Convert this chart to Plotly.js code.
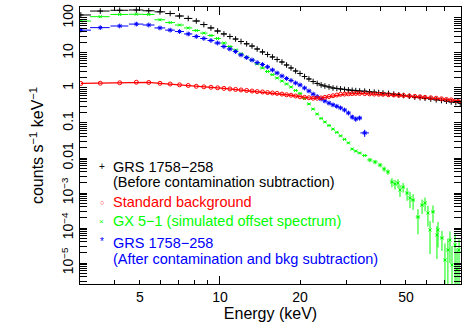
<!DOCTYPE html>
<html>
<head>
<meta charset="utf-8">
<script src="https://cdn.plot.ly/plotly-3.0.1.min.js"></script>
<style>
  html, body { margin: 0; padding: 0; background: #fff; }
  #chart { width: 463px; height: 327px; }
</style>
</head>
<body>
<div id="chart"></div>
<script>
// Energy grid (keV), bin centres
const pcaE = [3.0, 3.55, 4.2, 4.85, 5.4, 5.95, 6.5, 7.05, 7.6, 8.15, 8.7, 9.25, 9.8, 10.35, 10.9,
  11.45, 12.0, 12.6, 13.2, 13.8, 14.45, 15.1, 15.75, 16.4, 17.1, 17.8, 18.5, 19.25, 20.0, 20.8,
  21.6, 22.4, 23.2, 24.0, 24.8, 25.7, 26.6, 27.5, 28.4, 29.4, 30.4, 31.4, 32.4, 33.5, 35.0];
const hiE = [36.5, 38.0, 39.5, 41.0, 43.0, 45.0, 47.0, 49.0, 51.5, 54.0, 56.5, 59.0, 62.0, 65.0,
  68.0, 71.0, 74.0, 77.0, 80.0];

// GRS 1758-258 before contamination subtraction
const grsRaw = [122, 158, 166, 169, 161, 150, 134, 114, 97, 82, 65, 52, 42.5, 35, 29.6,
  25.1, 21.3, 18.3, 15.8, 13.0, 10.7, 9.06, 7.69, 6.52, 5.53, 4.54, 3.73, 3.06, 2.60, 2.13,
  1.81, 1.53, 1.35, 1.22, 1.14, 1.07, 1.0, 0.97, 0.94, 0.91, 0.88, 0.86, 0.84, 0.82, 0.81,
  0.78, 0.76, 0.74, 0.72, 0.70, 0.67, 0.64, 0.61, 0.58, 0.55, 0.53, 0.51, 0.485, 0.46,
  0.44, 0.42, 0.40, 0.385, 0.37];

// Standard background
const bkg = [1.35, 1.37, 1.41, 1.46, 1.44, 1.36, 1.30, 1.23, 1.18, 1.12, 1.08, 1.05, 1.01, 0.975, 0.94,
  0.91, 0.88, 0.85, 0.82, 0.79, 0.77, 0.74, 0.72, 0.70, 0.67, 0.64, 0.62, 0.59, 0.56, 0.54,
  0.525, 0.51, 0.51, 0.52, 0.54, 0.57, 0.60, 0.63, 0.66, 0.67, 0.68, 0.69, 0.70, 0.70, 0.69,
  0.68, 0.67, 0.665, 0.66, 0.64, 0.63, 0.62, 0.61, 0.59, 0.575, 0.56, 0.54, 0.525, 0.51,
  0.49, 0.47, 0.457, 0.44, 0.434];

// GX 5-1 simulated offset spectrum
const gxLow = [82, 109, 126, 128, 126, 89, 74, 63, 52, 44, 37, 31.6, 26, 19.3, 15.3,
  12.2, 9.4, 7.6, 6.2, 4.9, 3.73, 2.96, 2.40, 1.93, 1.58, 1.30, 1.07, 0.85, 0.70, 0.50,
  0.35, 0.25, 0.18, 0.135, 0.107, 0.085, 0.067, 0.054, 0.043, 0.034, 0.027, 0.018, 0.0158, 0.0139, 0.0118];
const gxHiE = [36.6, 38.3, 40.0, 41.4, 42.8, 44.3, 45.5, 46.7, 47.5, 48.8, 50.5, 51.8, 53.2, 55.5,
  57.5, 59.0, 60.5, 61.6, 63.2, 65.4, 66.0, 68.3, 70.1, 71.9, 73.2, 74.5, 76.5, 77.8, 79.2];
const gxHi = [8.8e-3, 7.7e-3, 6.3e-3, 4.85e-3, 4.0e-3, 2.06e-3, 1.81e-3, 1.93e-3, 1.22e-3, 1.48e-3,
  1.0e-3, 7.2e-4, 6.3e-4, 2.06e-4, 4.5e-4, 5.2e-4, 2.7e-4, 8.8e-5, 2.9e-4, 6.3e-5, 8.8e-5, 5.2e-5,
  1.22e-5, 2.35e-5, 4.5e-5, 8.8e-6, 3.3e-5, 6.3e-6, 2.35e-5];
const gxHiErr = [1.2e-3, 1.1e-3, 0.9e-3, 0.8e-3, 0.7e-3, 0.6e-3, 0.55e-3, 0.55e-3, 0.45e-3, 0.45e-3,
  0.4e-3, 0.35e-3, 0.3e-3, 1.4e-4, 2.0e-4, 2.2e-4, 1.6e-4, 7e-5, 1.5e-4, 5e-5, 6e-5, 3e-5,
  2.4e-5, 2.6e-5, 3.5e-5, 2.2e-5, 3.4e-5, 2.0e-5, 2.4e-5];

// GRS 1758-258 after contamination and background subtraction
const grsNet = [45, 53, 59, 67, 63, 52, 45, 41, 35, 29.6, 26, 22.8, 19.3, 15.3, 13.0,
  11.0, 8.8, 7.4, 6.3, 5.3, 4.7, 4.0, 3.27, 2.68, 2.2, 1.87, 1.64, 1.39, 1.22, 1.0,
  0.82, 0.67, 0.57, 0.485, 0.425, 0.37, 0.33, 0.30, 0.27, 0.235, 0.193, 0.148, 0.13, 0.139, 0.052];
const grsNetErr = [0.5, 0.5, 0.6, 0.6, 0.6, 0.5, 0.5, 0.4, 0.4, 0.3, 0.3, 0.3, 0.2, 0.2, 0.2,
  0.15, 0.12, 0.1, 0.1, 0.08, 0.08, 0.07, 0.06, 0.05, 0.05, 0.04, 0.04, 0.04, 0.04, 0.03,
  0.03, 0.03, 0.03, 0.03, 0.03, 0.03, 0.03, 0.03, 0.03, 0.03, 0.025, 0.02, 0.02, 0.02, 0.012];
const grsNetLastHalf = 1.3;

const allE = pcaE.concat(hiE);
const gxE = pcaE.concat(gxHiE);
const gxY = gxLow.concat(gxHi);
const gxErr = gxLow.map(v => v * 0.03).concat(gxHiErr);

// half bin widths from neighbouring bin centres
const halfWidths = (e) => e.map((v, i) => {
  const lo = i > 0 ? e[i - 1] : v - (e[i + 1] - v);
  const hi = i < e.length - 1 ? e[i + 1] : v + (v - e[i - 1]);
  return (hi - lo) / 4;
});

const netHalf = halfWidths(pcaE);
netHalf[netHalf.length - 1] = grsNetLastHalf;

const BLACK = '#000000', RED = '#ff0000', GREEN = '#00ff00', BLUE = '#0000ff';

const traces = [
  {
    x: gxE, y: gxY, type: 'scatter', mode: 'markers', name: 'GX 5-1',
    marker: { symbol: 'x-thin-open', size: 3, color: GREEN, line: { color: GREEN, width: 1 } },
    error_x: { type: 'data', array: halfWidths(gxE), width: 0, thickness: 1, color: GREEN },
    error_y: { type: 'data', array: gxErr, width: 0, thickness: 1, color: GREEN }
  },
  {
    x: pcaE, y: grsNet, type: 'scatter', mode: 'markers', name: 'GRS after',
    marker: { symbol: 'asterisk-open', size: 4, color: BLUE, line: { color: BLUE, width: 1 } },
    error_x: { type: 'data', array: netHalf, width: 0, thickness: 1, color: BLUE },
    error_y: { type: 'data', array: grsNetErr, width: 0, thickness: 1, color: BLUE }
  },
  {
    x: allE, y: grsRaw, type: 'scatter', mode: 'markers', name: 'GRS before',
    marker: { symbol: 'cross-thin-open', size: 4, color: BLACK, line: { color: BLACK, width: 1 } },
    error_x: { type: 'data', array: halfWidths(allE), width: 0, thickness: 1, color: BLACK }
  },
  {
    x: allE, y: bkg, type: 'scatter', mode: 'lines+markers', name: 'Standard background',
    line: { color: RED, width: 1.3 },
    marker: { symbol: 'circle-open', size: 4, color: RED, line: { color: RED, width: 1 } }
  },
  { x: [], y: [], xaxis: 'x2', type: 'scatter', showlegend: false }
];

const FONT = 'Liberation Sans, Arial, Helvetica, sans-serif';

// legend drawn as text rows: symbol, symbol size, colour, lines with paper y
const legendRows = [
  { sym: '+', size: 10, color: BLACK, y: 0.4224, lines: [['GRS 1758\u2212258', 0.4224], ['(Before contamination subtraction)', 0.3682]] },
  { sym: '\u25cb', size: 7, color: RED, y: 0.2960, lines: [['Standard background', 0.2960]] },
  { sym: '\u00d7', size: 8, color: GREEN, y: 0.2274, lines: [['GX 5\u22121 (simulated offset spectrum)', 0.2274]] },
  { sym: '*', size: 10, color: BLUE, y: 0.1530, lines: [['GRS 1758\u2212258', 0.1480], ['(After contamination and bkg subtraction)', 0.0903]] }
];

const annotations = [];
legendRows.forEach(row => {
  annotations.push({
    xref: 'paper', yref: 'paper', x: 0.0576, y: row.y, xanchor: 'center', yanchor: 'middle',
    text: row.sym, showarrow: false, font: { family: FONT, size: row.size, color: row.color }
  });
  row.lines.forEach(([txt, yy]) => {
    annotations.push({
      xref: 'paper', yref: 'paper', x: 0.0812, y: yy, xanchor: 'left', yanchor: 'middle',
      text: txt, showarrow: false, font: { family: FONT, size: 14.5, color: row.color }
    });
  });
});

const layout = {
  width: 463,
  height: 327,
  margin: { l: 80, r: 2, t: 7, b: 43 },
  paper_bgcolor: '#fff',
  plot_bgcolor: '#fff',
  showlegend: false,
  font: { family: FONT, color: BLACK, size: 14 },
  xaxis: {
    type: 'log',
    range: [0.474, 1.906],
    tickmode: 'array',
    tickvals: [5, 10, 20, 50],
    ticktext: ['5', '10', '20', '50'],
    ticks: 'inside', ticklen: 4, tickwidth: 1, tickcolor: BLACK,
    minor: { ticks: 'inside', ticklen: 4, tickwidth: 1, tickcolor: BLACK, dtick: 'D1', showgrid: false },
    showline: true, linecolor: BLACK, linewidth: 1, mirror: 'allticks',
    showgrid: false, zeroline: false,
    tickfont: { size: 14 },
    title: { text: 'Energy (keV)', font: { size: 16 }, standoff: 0 }
  },
  xaxis2: {
    type: 'log',
    overlaying: 'x',
    range: [0.474, 1.906],
    tickmode: 'array',
    tickvals: [10],
    ticks: 'inside', ticklen: 8, tickwidth: 1, tickcolor: BLACK,
    showticklabels: false, showline: false, showgrid: false, zeroline: false,
    mirror: 'allticks'
  },
  yaxis: {
    type: 'log',
    range: [-5.6, 2.314],
    tickmode: 'array',
    tickvals: [1e-5, 1e-4, 1e-3, 0.01, 0.1, 1, 10, 100],
    ticktext: ['10<sup>\u22125</sup>', '10<sup>\u22124</sup>', '10<sup>\u22123</sup>', '0.01', '0.1', '1', '10', '100'],
    tickangle: -90,
    ticks: 'inside', ticklen: 7, tickwidth: 1, tickcolor: BLACK,
    minor: { ticks: 'inside', ticklen: 4, tickwidth: 1, tickcolor: BLACK, dtick: 'D1', showgrid: false },
    showline: true, linecolor: BLACK, linewidth: 1, mirror: 'allticks',
    showgrid: false, zeroline: false,
    tickfont: { size: 14 },
    title: { text: 'counts s<sup>\u22121</sup> keV<sup>\u22121</sup>', font: { size: 16 }, standoff: 10 }
  },
  annotations: annotations
};

Plotly.newPlot('chart', traces, layout, { staticPlot: true, displayModeBar: false });
</script>
</body>
</html>
